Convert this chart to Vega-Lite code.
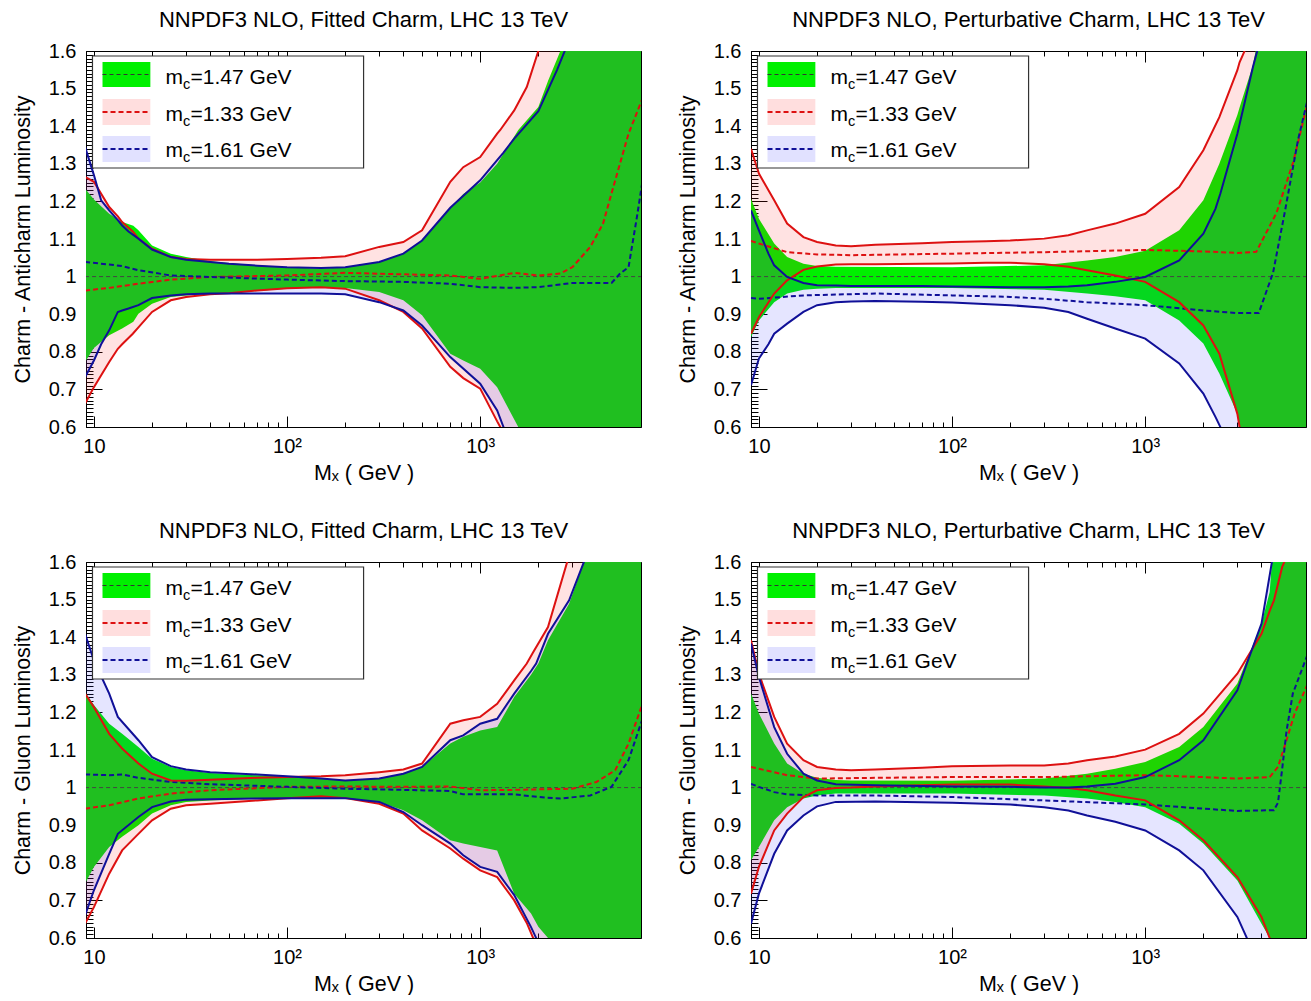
{
"$schema": "https://vega.github.io/schema/vega-lite/v6.json",
"padding": {"left": 11, "top": 8, "right": 0, "bottom": 0},
"background": "white",
"config": {
  "font": "Liberation Sans",
  "view": {"stroke": "#000", "strokeWidth": 1},
  "axis": {"domainColor": "#000", "tickColor": "#000", "labelColor": "#000", "titleColor": "#000", "labelFontSize": 20, "titleFontSize": 21.5, "titleFontWeight": "normal", "grid": false, "labelFont": "Liberation Sans", "titleFont": "Liberation Sans", "tickWidth": 1, "domainWidth": 1, "labelOverlap": false, "labelFlush": false, "zindex": 1, "tickCount": 1000},
  "title": {"fontSize": 22, "fontWeight": "normal", "font": "Liberation Sans", "color": "#000", "offset": 9}
},
"datasets": {
"d": [
{"p":"A","s":"g","x":9,"lo":0.773,"hi":1.234},{"p":"A","s":"g","x":10,"lo":0.81,"hi":1.205},{"p":"A","s":"g","x":12,"lo":0.844,"hi":1.167},{"p":"A","s":"g","x":14,"lo":0.862,"hi":1.145},{"p":"A","s":"g","x":16,"lo":0.88,"hi":1.135},{"p":"A","s":"g","x":17,"lo":0.901,"hi":1.123},{"p":"A","s":"g","x":20,"lo":0.928,"hi":1.083},{"p":"A","s":"g","x":25,"lo":0.946,"hi":1.061},{"p":"A","s":"g","x":30,"lo":0.95,"hi":1.052},{"p":"A","s":"g","x":40,"lo":0.955,"hi":1.041},{"p":"A","s":"g","x":50,"lo":0.956,"hi":1.036},{"p":"A","s":"g","x":70,"lo":0.962,"hi":1.03},{"p":"A","s":"g","x":100,"lo":0.968,"hi":1.025},{"p":"A","s":"g","x":150,"lo":0.972,"hi":1.021},{"p":"A","s":"g","x":200,"lo":0.97,"hi":1.025},{"p":"A","s":"g","x":300,"lo":0.959,"hi":1.039},{"p":"A","s":"g","x":400,"lo":0.937,"hi":1.061},{"p":"A","s":"g","x":500,"lo":0.897,"hi":1.096},{"p":"A","s":"g","x":700,"lo":0.795,"hi":1.181},{"p":"A","s":"g","x":817,"lo":0.777,"hi":1.22},{"p":"A","s":"g","x":1000,"lo":0.755,"hi":1.25},{"p":"A","s":"g","x":1224,"lo":0.706,"hi":1.3},{"p":"A","s":"g","x":1574,"lo":0.6,"hi":1.39},{"p":"A","s":"g","x":2000,"lo":0.45,"hi":1.451},{"p":"A","s":"g","x":2244,"lo":0.4,"hi":1.52},{"p":"A","s":"g","x":2600,"lo":0.3,"hi":1.6},{"p":"A","s":"g","x":3000,"lo":0.2,"hi":1.7},{"p":"A","s":"g","x":7000,"lo":0,"hi":2.5},
{"p":"A","s":"r","x":9,"lo":0.662,"hi":1.265},{"p":"A","s":"r","x":10,"lo":0.706,"hi":1.252},{"p":"A","s":"r","x":12,"lo":0.773,"hi":1.185},{"p":"A","s":"r","x":13.3,"lo":0.808,"hi":1.16},{"p":"A","s":"r","x":14,"lo":0.82,"hi":1.145},{"p":"A","s":"r","x":15.9,"lo":0.848,"hi":1.12},{"p":"A","s":"r","x":17,"lo":0.865,"hi":1.101},{"p":"A","s":"r","x":20,"lo":0.906,"hi":1.074},{"p":"A","s":"r","x":25,"lo":0.937,"hi":1.052},{"p":"A","s":"r","x":30,"lo":0.946,"hi":1.047},{"p":"A","s":"r","x":40,"lo":0.953,"hi":1.045},{"p":"A","s":"r","x":50,"lo":0.956,"hi":1.045},{"p":"A","s":"r","x":70,"lo":0.963,"hi":1.045},{"p":"A","s":"r","x":100,"lo":0.969,"hi":1.047},{"p":"A","s":"r","x":150,"lo":0.972,"hi":1.05},{"p":"A","s":"r","x":200,"lo":0.968,"hi":1.054},{"p":"A","s":"r","x":300,"lo":0.937,"hi":1.079},{"p":"A","s":"r","x":400,"lo":0.906,"hi":1.092},{"p":"A","s":"r","x":500,"lo":0.862,"hi":1.123},{"p":"A","s":"r","x":700,"lo":0.76,"hi":1.252},{"p":"A","s":"r","x":817,"lo":0.73,"hi":1.291},{"p":"A","s":"r","x":1000,"lo":0.702,"hi":1.318},{"p":"A","s":"r","x":1224,"lo":0.615,"hi":1.38},{"p":"A","s":"r","x":1270,"lo":0.6,"hi":1.39},{"p":"A","s":"r","x":1500,"lo":0.5,"hi":1.442},{"p":"A","s":"r","x":1742,"lo":0.4,"hi":1.504},{"p":"A","s":"r","x":2000,"lo":0.3,"hi":1.6},{"p":"A","s":"r","x":2500,"lo":0.1,"hi":1.8},{"p":"A","s":"r","x":7000,"lo":0,"hi":3},
{"p":"A","s":"b","x":9,"lo":0.733,"hi":1.345},{"p":"A","s":"b","x":10,"lo":0.777,"hi":1.27},{"p":"A","s":"b","x":10.9,"lo":0.82,"hi":1.203},{"p":"A","s":"b","x":12,"lo":0.857,"hi":1.176},{"p":"A","s":"b","x":13.3,"lo":0.906,"hi":1.15},{"p":"A","s":"b","x":14,"lo":0.91,"hi":1.136},{"p":"A","s":"b","x":15.1,"lo":0.915,"hi":1.12},{"p":"A","s":"b","x":17,"lo":0.924,"hi":1.101},{"p":"A","s":"b","x":20,"lo":0.943,"hi":1.072},{"p":"A","s":"b","x":25,"lo":0.95,"hi":1.052},{"p":"A","s":"b","x":30,"lo":0.953,"hi":1.045},{"p":"A","s":"b","x":40,"lo":0.955,"hi":1.039},{"p":"A","s":"b","x":50,"lo":0.955,"hi":1.034},{"p":"A","s":"b","x":70,"lo":0.955,"hi":1.029},{"p":"A","s":"b","x":100,"lo":0.955,"hi":1.025},{"p":"A","s":"b","x":150,"lo":0.955,"hi":1.023},{"p":"A","s":"b","x":200,"lo":0.953,"hi":1.025},{"p":"A","s":"b","x":300,"lo":0.932,"hi":1.039},{"p":"A","s":"b","x":400,"lo":0.91,"hi":1.061},{"p":"A","s":"b","x":500,"lo":0.87,"hi":1.096},{"p":"A","s":"b","x":700,"lo":0.786,"hi":1.183},{"p":"A","s":"b","x":1000,"lo":0.715,"hi":1.256},{"p":"A","s":"b","x":1224,"lo":0.644,"hi":1.31},{"p":"A","s":"b","x":1320,"lo":0.6,"hi":1.33},{"p":"A","s":"b","x":1500,"lo":0.5,"hi":1.367},{"p":"A","s":"b","x":2000,"lo":0.3,"hi":1.44},{"p":"A","s":"b","x":2500,"lo":0.1,"hi":1.55},{"p":"A","s":"b","x":3000,"lo":0,"hi":1.65},{"p":"A","s":"b","x":7000,"lo":0,"hi":3},
{"p":"A","s":"gc","x":9,"c":1},{"p":"A","s":"gc","x":7000,"c":1},
{"p":"A","s":"rc","x":9,"c":0.963},{"p":"A","s":"rc","x":12,"c":0.97},{"p":"A","s":"rc","x":17,"c":0.981},{"p":"A","s":"rc","x":25,"c":0.992},{"p":"A","s":"rc","x":40,"c":0.999},{"p":"A","s":"rc","x":100,"c":1.003},{"p":"A","s":"rc","x":200,"c":1.01},{"p":"A","s":"rc","x":400,"c":1.006},{"p":"A","s":"rc","x":700,"c":1.003},{"p":"A","s":"rc","x":1000,"c":0.994},{"p":"A","s":"rc","x":1500,"c":1.01},{"p":"A","s":"rc","x":2000,"c":1.003},{"p":"A","s":"rc","x":2600,"c":1.008},{"p":"A","s":"rc","x":3000,"c":1.025},{"p":"A","s":"rc","x":3715,"c":1.079},{"p":"A","s":"rc","x":4325,"c":1.141},{"p":"A","s":"rc","x":5000,"c":1.256},{"p":"A","s":"rc","x":5860,"c":1.38},{"p":"A","s":"rc","x":7000,"c":1.48},
{"p":"A","s":"bc","x":9,"c":1.039},{"p":"A","s":"bc","x":12,"c":1.032},{"p":"A","s":"bc","x":14,"c":1.028},{"p":"A","s":"bc","x":17,"c":1.017},{"p":"A","s":"bc","x":25,"c":1.003},{"p":"A","s":"bc","x":40,"c":0.999},{"p":"A","s":"bc","x":100,"c":0.992},{"p":"A","s":"bc","x":200,"c":0.988},{"p":"A","s":"bc","x":400,"c":0.986},{"p":"A","s":"bc","x":700,"c":0.981},{"p":"A","s":"bc","x":1000,"c":0.972},{"p":"A","s":"bc","x":1500,"c":0.97},{"p":"A","s":"bc","x":2000,"c":0.972},{"p":"A","s":"bc","x":3000,"c":0.983},{"p":"A","s":"bc","x":4786,"c":0.983},{"p":"A","s":"bc","x":5297,"c":1.008},{"p":"A","s":"bc","x":5860,"c":1.025},{"p":"A","s":"bc","x":6475,"c":1.158},{"p":"A","s":"bc","x":7000,"c":1.27},
{"p":"B","s":"g","x":9.1,"lo":0.839,"hi":1.207},{"p":"B","s":"g","x":10,"lo":0.883,"hi":1.154},{"p":"B","s":"g","x":12,"lo":0.932,"hi":1.088},{"p":"B","s":"g","x":14,"lo":0.955,"hi":1.052},{"p":"B","s":"g","x":17,"lo":0.965,"hi":1.034},{"p":"B","s":"g","x":20,"lo":0.968,"hi":1.028},{"p":"B","s":"g","x":25,"lo":0.97,"hi":1.026},{"p":"B","s":"g","x":100,"lo":0.97,"hi":1.025},{"p":"B","s":"g","x":300,"lo":0.965,"hi":1.03},{"p":"B","s":"g","x":500,"lo":0.955,"hi":1.043},{"p":"B","s":"g","x":700,"lo":0.948,"hi":1.052},{"p":"B","s":"g","x":1000,"lo":0.937,"hi":1.069},{"p":"B","s":"g","x":1500,"lo":0.883,"hi":1.123},{"p":"B","s":"g","x":2000,"lo":0.822,"hi":1.203},{"p":"B","s":"g","x":2420,"lo":0.742,"hi":1.3},{"p":"B","s":"g","x":3000,"lo":0.635,"hi":1.43},{"p":"B","s":"g","x":3080,"lo":0.6,"hi":1.45},{"p":"B","s":"g","x":3600,"lo":0.4,"hi":1.56},{"p":"B","s":"g","x":3800,"lo":0.3,"hi":1.62},{"p":"B","s":"g","x":7000,"lo":0,"hi":3},
{"p":"B","s":"r","x":9.1,"lo":0.848,"hi":1.34},{"p":"B","s":"r","x":10,"lo":0.892,"hi":1.274},{"p":"B","s":"r","x":12,"lo":0.955,"hi":1.203},{"p":"B","s":"r","x":14,"lo":0.99,"hi":1.141},{"p":"B","s":"r","x":17,"lo":1.018,"hi":1.105},{"p":"B","s":"r","x":20,"lo":1.027,"hi":1.092},{"p":"B","s":"r","x":25,"lo":1.032,"hi":1.083},{"p":"B","s":"r","x":30,"lo":1.033,"hi":1.081},{"p":"B","s":"r","x":40,"lo":1.033,"hi":1.085},{"p":"B","s":"r","x":70,"lo":1.034,"hi":1.089},{"p":"B","s":"r","x":100,"lo":1.035,"hi":1.092},{"p":"B","s":"r","x":150,"lo":1.037,"hi":1.094},{"p":"B","s":"r","x":200,"lo":1.037,"hi":1.096},{"p":"B","s":"r","x":300,"lo":1.033,"hi":1.101},{"p":"B","s":"r","x":400,"lo":1.026,"hi":1.11},{"p":"B","s":"r","x":500,"lo":1.017,"hi":1.123},{"p":"B","s":"r","x":700,"lo":1.003,"hi":1.141},{"p":"B","s":"r","x":1000,"lo":0.986,"hi":1.167},{"p":"B","s":"r","x":1500,"lo":0.932,"hi":1.238},{"p":"B","s":"r","x":2000,"lo":0.87,"hi":1.336},{"p":"B","s":"r","x":2420,"lo":0.795,"hi":1.424},{"p":"B","s":"r","x":3000,"lo":0.635,"hi":1.549},{"p":"B","s":"r","x":3080,"lo":0.6,"hi":1.57},{"p":"B","s":"r","x":3270,"lo":0.5,"hi":1.6},{"p":"B","s":"r","x":4000,"lo":0.2,"hi":1.9},{"p":"B","s":"r","x":7000,"lo":0,"hi":3},
{"p":"B","s":"b","x":9.1,"lo":0.711,"hi":1.176},{"p":"B","s":"b","x":10,"lo":0.782,"hi":1.123},{"p":"B","s":"b","x":11.2,"lo":0.82,"hi":1.061},{"p":"B","s":"b","x":12,"lo":0.848,"hi":1.03},{"p":"B","s":"b","x":14,"lo":0.875,"hi":0.999},{"p":"B","s":"b","x":17,"lo":0.906,"hi":0.983},{"p":"B","s":"b","x":20,"lo":0.924,"hi":0.977},{"p":"B","s":"b","x":25,"lo":0.932,"hi":0.976},{"p":"B","s":"b","x":30,"lo":0.934,"hi":0.975},{"p":"B","s":"b","x":40,"lo":0.935,"hi":0.975},{"p":"B","s":"b","x":70,"lo":0.933,"hi":0.975},{"p":"B","s":"b","x":100,"lo":0.931,"hi":0.974},{"p":"B","s":"b","x":200,"lo":0.924,"hi":0.972},{"p":"B","s":"b","x":300,"lo":0.917,"hi":0.972},{"p":"B","s":"b","x":400,"lo":0.906,"hi":0.974},{"p":"B","s":"b","x":500,"lo":0.888,"hi":0.977},{"p":"B","s":"b","x":700,"lo":0.862,"hi":0.986},{"p":"B","s":"b","x":1000,"lo":0.835,"hi":0.999},{"p":"B","s":"b","x":1500,"lo":0.769,"hi":1.043},{"p":"B","s":"b","x":2000,"lo":0.689,"hi":1.114},{"p":"B","s":"b","x":2310,"lo":0.627,"hi":1.18},{"p":"B","s":"b","x":2450,"lo":0.6,"hi":1.221},{"p":"B","s":"b","x":3000,"lo":0.45,"hi":1.38},{"p":"B","s":"b","x":3610,"lo":0.3,"hi":1.557},{"p":"B","s":"b","x":3800,"lo":0.25,"hi":1.6},{"p":"B","s":"b","x":7000,"lo":0,"hi":3},
{"p":"B","s":"gc","x":9,"c":1},{"p":"B","s":"gc","x":7000,"c":1},
{"p":"B","s":"rc","x":9.1,"c":1.095},{"p":"B","s":"rc","x":10,"c":1.088},{"p":"B","s":"rc","x":14,"c":1.065},{"p":"B","s":"rc","x":20,"c":1.059},{"p":"B","s":"rc","x":30,"c":1.057},{"p":"B","s":"rc","x":100,"c":1.061},{"p":"B","s":"rc","x":300,"c":1.065},{"p":"B","s":"rc","x":1000,"c":1.071},{"p":"B","s":"rc","x":2000,"c":1.067},{"p":"B","s":"rc","x":3000,"c":1.063},{"p":"B","s":"rc","x":3760,"c":1.066},{"p":"B","s":"rc","x":4780,"c":1.169},{"p":"B","s":"rc","x":5820,"c":1.302},{"p":"B","s":"rc","x":7000,"c":1.47},
{"p":"B","s":"bc","x":9.1,"c":0.943},{"p":"B","s":"bc","x":10,"c":0.941},{"p":"B","s":"bc","x":17,"c":0.95},{"p":"B","s":"bc","x":40,"c":0.955},{"p":"B","s":"bc","x":100,"c":0.95},{"p":"B","s":"bc","x":200,"c":0.946},{"p":"B","s":"bc","x":300,"c":0.941},{"p":"B","s":"bc","x":500,"c":0.932},{"p":"B","s":"bc","x":1000,"c":0.924},{"p":"B","s":"bc","x":2000,"c":0.91},{"p":"B","s":"bc","x":3000,"c":0.903},{"p":"B","s":"bc","x":3870,"c":0.903},{"p":"B","s":"bc","x":4590,"c":1.01},{"p":"B","s":"bc","x":5270,"c":1.169},{"p":"B","s":"bc","x":6180,"c":1.363},{"p":"B","s":"bc","x":7000,"c":1.48},
{"p":"C","s":"g","x":9,"lo":0.745,"hi":1.254},{"p":"C","s":"g","x":10,"lo":0.789,"hi":1.22},{"p":"C","s":"g","x":12,"lo":0.842,"hi":1.17},{"p":"C","s":"g","x":14,"lo":0.869,"hi":1.143},{"p":"C","s":"g","x":17,"lo":0.9,"hi":1.108},{"p":"C","s":"g","x":20,"lo":0.931,"hi":1.077},{"p":"C","s":"g","x":25,"lo":0.953,"hi":1.055},{"p":"C","s":"g","x":30,"lo":0.962,"hi":1.046},{"p":"C","s":"g","x":40,"lo":0.966,"hi":1.039},{"p":"C","s":"g","x":70,"lo":0.971,"hi":1.033},{"p":"C","s":"g","x":100,"lo":0.972,"hi":1.03},{"p":"C","s":"g","x":150,"lo":0.972,"hi":1.024},{"p":"C","s":"g","x":200,"lo":0.971,"hi":1.019},{"p":"C","s":"g","x":300,"lo":0.962,"hi":1.024},{"p":"C","s":"g","x":400,"lo":0.94,"hi":1.037},{"p":"C","s":"g","x":500,"lo":0.913,"hi":1.055},{"p":"C","s":"g","x":700,"lo":0.86,"hi":1.117},{"p":"C","s":"g","x":817,"lo":0.851,"hi":1.135},{"p":"C","s":"g","x":1000,"lo":0.842,"hi":1.152},{"p":"C","s":"g","x":1224,"lo":0.833,"hi":1.161},{"p":"C","s":"g","x":1500,"lo":0.718,"hi":1.241},{"p":"C","s":"g","x":1833,"lo":0.665,"hi":1.3},{"p":"C","s":"g","x":2000,"lo":0.63,"hi":1.33},{"p":"C","s":"g","x":2244,"lo":0.6,"hi":1.392},{"p":"C","s":"g","x":2886,"lo":0.4,"hi":1.489},{"p":"C","s":"g","x":3443,"lo":0.3,"hi":1.6},{"p":"C","s":"g","x":7000,"lo":0,"hi":2.5},
{"p":"C","s":"r","x":9,"lo":0.638,"hi":1.25},{"p":"C","s":"r","x":10,"lo":0.682,"hi":1.214},{"p":"C","s":"r","x":12,"lo":0.771,"hi":1.143},{"p":"C","s":"r","x":14,"lo":0.833,"hi":1.104},{"p":"C","s":"r","x":17,"lo":0.877,"hi":1.064},{"p":"C","s":"r","x":20,"lo":0.913,"hi":1.037},{"p":"C","s":"r","x":25,"lo":0.944,"hi":1.019},{"p":"C","s":"r","x":30,"lo":0.953,"hi":1.018},{"p":"C","s":"r","x":40,"lo":0.957,"hi":1.021},{"p":"C","s":"r","x":70,"lo":0.966,"hi":1.026},{"p":"C","s":"r","x":100,"lo":0.972,"hi":1.028},{"p":"C","s":"r","x":150,"lo":0.977,"hi":1.03},{"p":"C","s":"r","x":200,"lo":0.972,"hi":1.033},{"p":"C","s":"r","x":300,"lo":0.957,"hi":1.041},{"p":"C","s":"r","x":400,"lo":0.931,"hi":1.048},{"p":"C","s":"r","x":500,"lo":0.886,"hi":1.064},{"p":"C","s":"r","x":700,"lo":0.838,"hi":1.17},{"p":"C","s":"r","x":817,"lo":0.811,"hi":1.179},{"p":"C","s":"r","x":1000,"lo":0.78,"hi":1.188},{"p":"C","s":"r","x":1224,"lo":0.762,"hi":1.223},{"p":"C","s":"r","x":1500,"lo":0.7,"hi":1.285},{"p":"C","s":"r","x":1742,"lo":0.64,"hi":1.33},{"p":"C","s":"r","x":1880,"lo":0.6,"hi":1.36},{"p":"C","s":"r","x":2244,"lo":0.45,"hi":1.427},{"p":"C","s":"r","x":2820,"lo":0.3,"hi":1.6},{"p":"C","s":"r","x":7000,"lo":0,"hi":3},
{"p":"C","s":"b","x":9,"lo":0.66,"hi":1.409},{"p":"C","s":"b","x":10,"lo":0.727,"hi":1.338},{"p":"C","s":"b","x":12,"lo":0.824,"hi":1.25},{"p":"C","s":"b","x":13.3,"lo":0.877,"hi":1.188},{"p":"C","s":"b","x":17,"lo":0.922,"hi":1.126},{"p":"C","s":"b","x":20,"lo":0.948,"hi":1.081},{"p":"C","s":"b","x":25,"lo":0.963,"hi":1.057},{"p":"C","s":"b","x":30,"lo":0.968,"hi":1.048},{"p":"C","s":"b","x":40,"lo":0.969,"hi":1.041},{"p":"C","s":"b","x":70,"lo":0.971,"hi":1.035},{"p":"C","s":"b","x":100,"lo":0.972,"hi":1.03},{"p":"C","s":"b","x":150,"lo":0.972,"hi":1.024},{"p":"C","s":"b","x":200,"lo":0.972,"hi":1.019},{"p":"C","s":"b","x":300,"lo":0.962,"hi":1.024},{"p":"C","s":"b","x":400,"lo":0.935,"hi":1.037},{"p":"C","s":"b","x":500,"lo":0.9,"hi":1.055},{"p":"C","s":"b","x":700,"lo":0.851,"hi":1.126},{"p":"C","s":"b","x":817,"lo":0.82,"hi":1.139},{"p":"C","s":"b","x":1000,"lo":0.789,"hi":1.17},{"p":"C","s":"b","x":1224,"lo":0.776,"hi":1.183},{"p":"C","s":"b","x":1500,"lo":0.714,"hi":1.25},{"p":"C","s":"b","x":1833,"lo":0.629,"hi":1.31},{"p":"C","s":"b","x":1948,"lo":0.6,"hi":1.33},{"p":"C","s":"b","x":2244,"lo":0.5,"hi":1.409},{"p":"C","s":"b","x":2886,"lo":0.3,"hi":1.498},{"p":"C","s":"b","x":3443,"lo":0.1,"hi":1.6},{"p":"C","s":"b","x":7000,"lo":0,"hi":3},
{"p":"C","s":"gc","x":9,"c":1},{"p":"C","s":"gc","x":7000,"c":1},
{"p":"C","s":"rc","x":9,"c":0.944},{"p":"C","s":"rc","x":12,"c":0.953},{"p":"C","s":"rc","x":17,"c":0.971},{"p":"C","s":"rc","x":25,"c":0.984},{"p":"C","s":"rc","x":40,"c":0.993},{"p":"C","s":"rc","x":100,"c":1.002},{"p":"C","s":"rc","x":200,"c":1.003},{"p":"C","s":"rc","x":400,"c":1.002},{"p":"C","s":"rc","x":700,"c":1.003},{"p":"C","s":"rc","x":1000,"c":0.993},{"p":"C","s":"rc","x":1500,"c":0.994},{"p":"C","s":"rc","x":3000,"c":0.997},{"p":"C","s":"rc","x":4000,"c":1.015},{"p":"C","s":"rc","x":5000,"c":1.046},{"p":"C","s":"rc","x":5860,"c":1.117},{"p":"C","s":"rc","x":7000,"c":1.23},
{"p":"C","s":"bc","x":9,"c":1.035},{"p":"C","s":"bc","x":12,"c":1.033},{"p":"C","s":"bc","x":14,"c":1.035},{"p":"C","s":"bc","x":17,"c":1.026},{"p":"C","s":"bc","x":25,"c":1.015},{"p":"C","s":"bc","x":40,"c":1.009},{"p":"C","s":"bc","x":100,"c":1.002},{"p":"C","s":"bc","x":200,"c":0.997},{"p":"C","s":"bc","x":400,"c":0.994},{"p":"C","s":"bc","x":700,"c":0.991},{"p":"C","s":"bc","x":817,"c":0.982},{"p":"C","s":"bc","x":1500,"c":0.982},{"p":"C","s":"bc","x":2000,"c":0.975},{"p":"C","s":"bc","x":2600,"c":0.971},{"p":"C","s":"bc","x":3715,"c":0.979},{"p":"C","s":"bc","x":4786,"c":1.002},{"p":"C","s":"bc","x":5860,"c":1.073},{"p":"C","s":"bc","x":7000,"c":1.19},
{"p":"D","s":"g","x":9.1,"lo":0.807,"hi":1.25},{"p":"D","s":"g","x":10,"lo":0.842,"hi":1.197},{"p":"D","s":"g","x":12,"lo":0.913,"hi":1.117},{"p":"D","s":"g","x":14,"lo":0.948,"hi":1.064},{"p":"D","s":"g","x":17,"lo":0.971,"hi":1.037},{"p":"D","s":"g","x":20,"lo":0.979,"hi":1.026},{"p":"D","s":"g","x":25,"lo":0.984,"hi":1.02},{"p":"D","s":"g","x":30,"lo":0.984,"hi":1.019},{"p":"D","s":"g","x":100,"lo":0.984,"hi":1.018},{"p":"D","s":"g","x":300,"lo":0.979,"hi":1.024},{"p":"D","s":"g","x":500,"lo":0.971,"hi":1.037},{"p":"D","s":"g","x":700,"lo":0.962,"hi":1.05},{"p":"D","s":"g","x":1000,"lo":0.948,"hi":1.068},{"p":"D","s":"g","x":1500,"lo":0.904,"hi":1.108},{"p":"D","s":"g","x":2000,"lo":0.851,"hi":1.161},{"p":"D","s":"g","x":3000,"lo":0.753,"hi":1.277},{"p":"D","s":"g","x":4000,"lo":0.638,"hi":1.436},{"p":"D","s":"g","x":4410,"lo":0.6,"hi":1.52},{"p":"D","s":"g","x":4530,"lo":0.55,"hi":1.6},{"p":"D","s":"g","x":7000,"lo":0,"hi":3},
{"p":"D","s":"r","x":9.1,"lo":0.718,"hi":1.392},{"p":"D","s":"r","x":10,"lo":0.789,"hi":1.303},{"p":"D","s":"r","x":12,"lo":0.886,"hi":1.188},{"p":"D","s":"r","x":14,"lo":0.931,"hi":1.117},{"p":"D","s":"r","x":17,"lo":0.975,"hi":1.073},{"p":"D","s":"r","x":20,"lo":0.993,"hi":1.055},{"p":"D","s":"r","x":25,"lo":0.999,"hi":1.048},{"p":"D","s":"r","x":30,"lo":1.0,"hi":1.046},{"p":"D","s":"r","x":40,"lo":1.003,"hi":1.048},{"p":"D","s":"r","x":70,"lo":1.006,"hi":1.053},{"p":"D","s":"r","x":100,"lo":1.008,"hi":1.057},{"p":"D","s":"r","x":200,"lo":1.008,"hi":1.059},{"p":"D","s":"r","x":300,"lo":1.003,"hi":1.059},{"p":"D","s":"r","x":400,"lo":0.999,"hi":1.064},{"p":"D","s":"r","x":500,"lo":0.993,"hi":1.073},{"p":"D","s":"r","x":700,"lo":0.979,"hi":1.083},{"p":"D","s":"r","x":1000,"lo":0.966,"hi":1.101},{"p":"D","s":"r","x":1500,"lo":0.913,"hi":1.143},{"p":"D","s":"r","x":2000,"lo":0.86,"hi":1.197},{"p":"D","s":"r","x":3000,"lo":0.762,"hi":1.303},{"p":"D","s":"r","x":4000,"lo":0.656,"hi":1.409},{"p":"D","s":"r","x":4410,"lo":0.6,"hi":1.47},{"p":"D","s":"r","x":4640,"lo":0.55,"hi":1.498},{"p":"D","s":"r","x":5120,"lo":0.4,"hi":1.587},{"p":"D","s":"r","x":5250,"lo":0.35,"hi":1.6},{"p":"D","s":"r","x":7000,"lo":0,"hi":2.5},
{"p":"D","s":"b","x":9.1,"lo":0.638,"hi":1.383},{"p":"D","s":"b","x":10,"lo":0.718,"hi":1.294},{"p":"D","s":"b","x":12,"lo":0.824,"hi":1.161},{"p":"D","s":"b","x":14,"lo":0.886,"hi":1.09},{"p":"D","s":"b","x":17,"lo":0.926,"hi":1.037},{"p":"D","s":"b","x":20,"lo":0.95,"hi":1.019},{"p":"D","s":"b","x":25,"lo":0.962,"hi":1.009},{"p":"D","s":"b","x":40,"lo":0.963,"hi":1.006},{"p":"D","s":"b","x":100,"lo":0.96,"hi":1.003},{"p":"D","s":"b","x":200,"lo":0.955,"hi":1.002},{"p":"D","s":"b","x":300,"lo":0.948,"hi":1.0},{"p":"D","s":"b","x":400,"lo":0.939,"hi":1.0},{"p":"D","s":"b","x":500,"lo":0.926,"hi":1.003},{"p":"D","s":"b","x":700,"lo":0.909,"hi":1.01},{"p":"D","s":"b","x":1000,"lo":0.886,"hi":1.028},{"p":"D","s":"b","x":1500,"lo":0.833,"hi":1.073},{"p":"D","s":"b","x":2000,"lo":0.78,"hi":1.126},{"p":"D","s":"b","x":3000,"lo":0.656,"hi":1.259},{"p":"D","s":"b","x":3360,"lo":0.6,"hi":1.33},{"p":"D","s":"b","x":4000,"lo":0.45,"hi":1.436},{"p":"D","s":"b","x":4530,"lo":0.3,"hi":1.6},{"p":"D","s":"b","x":7000,"lo":0,"hi":3},
{"p":"D","s":"gc","x":9,"c":1},{"p":"D","s":"gc","x":7000,"c":1},
{"p":"D","s":"rc","x":9.1,"c":1.055},{"p":"D","s":"rc","x":10,"c":1.05},{"p":"D","s":"rc","x":14,"c":1.033},{"p":"D","s":"rc","x":20,"c":1.024},{"p":"D","s":"rc","x":40,"c":1.026},{"p":"D","s":"rc","x":100,"c":1.028},{"p":"D","s":"rc","x":300,"c":1.028},{"p":"D","s":"rc","x":1000,"c":1.033},{"p":"D","s":"rc","x":2000,"c":1.028},{"p":"D","s":"rc","x":3000,"c":1.024},{"p":"D","s":"rc","x":4410,"c":1.028},{"p":"D","s":"rc","x":4870,"c":1.055},{"p":"D","s":"rc","x":5390,"c":1.126},{"p":"D","s":"rc","x":5940,"c":1.197},{"p":"D","s":"rc","x":7000,"c":1.28},
{"p":"D","s":"bc","x":9.1,"c":1.01},{"p":"D","s":"bc","x":10,"c":1.002},{"p":"D","s":"bc","x":12,"c":0.988},{"p":"D","s":"bc","x":14,"c":0.982},{"p":"D","s":"bc","x":20,"c":0.979},{"p":"D","s":"bc","x":40,"c":0.979},{"p":"D","s":"bc","x":100,"c":0.975},{"p":"D","s":"bc","x":300,"c":0.966},{"p":"D","s":"bc","x":1000,"c":0.955},{"p":"D","s":"bc","x":2000,"c":0.944},{"p":"D","s":"bc","x":3000,"c":0.938},{"p":"D","s":"bc","x":4640,"c":0.94},{"p":"D","s":"bc","x":4870,"c":0.96},{"p":"D","s":"bc","x":5120,"c":1.05},{"p":"D","s":"bc","x":5390,"c":1.15},{"p":"D","s":"bc","x":5810,"c":1.25},{"p":"D","s":"bc","x":7000,"c":1.36}
],
"leg": [{"k": "legend"}]
},
"columns": 2,
"spacing": {"row": 35, "column": 34},
"concat": [
{
 "width": 555, "height": 376,
 "title": {"text": "NNPDF3 NLO, Fitted Charm, LHC 13 TeV"},
 "resolve": {"axis": {"x": "independent"}},
 "layer": [
  {"data": {"name": "d"}, "transform": [{"filter": "datum.p=='A' && datum.s=='g'"}], "mark": {"type": "area", "clip": true, "fill": "#00f000"},
   "encoding": {
    "x": {"field": "x", "type": "quantitative", "scale": {"type": "log", "domain": [9.1, 6800], "nice": false},
      "axis": {"orient": "bottom", "values": [10,20,30,40,50,60,70,80,90,100,200,300,400,500,600,700,800,900,1000,2000,3000,4000,5000,6000], "tickCount": 1000, "labelExpr": "datum.value==10?'10':datum.value==100?'10²':datum.value==1000?'10³':''", "labelOverlap": false, "labelPadding": 20, "tickSize": {"condition": {"test": "datum.value==10||datum.value==100||datum.value==1000", "value": -11}, "value": -5}, "title": "Mₓ ( GeV )", "titlePadding": 0}},
    "y": {"field": "lo", "type": "quantitative", "scale": {"domain": [0.6, 1.6], "nice": false, "zero": false},
      "axis": {"values": [0.6,0.61,0.62,0.63,0.64,0.65,0.66,0.67,0.68,0.69,0.7,0.71,0.72,0.73,0.74,0.75,0.76,0.77,0.78,0.79,0.8,0.81,0.82,0.83,0.84,0.85,0.86,0.87,0.88,0.89,0.9,0.91,0.92,0.93,0.94,0.95,0.96,0.97,0.98,0.99,1,1.01,1.02,1.03,1.04,1.05,1.06,1.07,1.08,1.09,1.1,1.11,1.12,1.13,1.14,1.15,1.16,1.17,1.18,1.19,1.2,1.21,1.22,1.23,1.24,1.25,1.26,1.27,1.28,1.29,1.3,1.31,1.32,1.33,1.34,1.35,1.36,1.37,1.38,1.39,1.4,1.41,1.42,1.43,1.44,1.45,1.46,1.47,1.48,1.49,1.5,1.51,1.52,1.53,1.54,1.55,1.56,1.57,1.58,1.59,1.6], "tickCount": 1000, "labelExpr": "abs(datum.value*10-round(datum.value*10))<0.001?format(datum.value,'~g'):''", "labelOverlap": false, "labelPadding": 26, "tickSize": {"condition": {"test": "abs(datum.value*10-round(datum.value*10))<0.001", "value": -16}, "value": -7}, "title": "Charm - Anticharm Luminosity", "titlePadding": 14}},
    "y2": {"field": "hi"}}},
  {"data": {"name": "d"}, "transform": [{"filter": "datum.p=='A' && datum.s=='r'"}], "mark": {"type": "area", "clip": true, "fill": "#ff1414", "fillOpacity": 0.12},
   "encoding": {
    "x": {"field": "x", "type": "quantitative", "scale": {"type": "log", "domain": [9.1, 6800], "nice": false},
      "axis": {"orient": "top", "values": [10,20,30,40,50,60,70,80,90,100,200,300,400,500,600,700,800,900,1000,2000,3000,4000,5000,6000], "tickCount": 1000, "labels": false, "title": null, "tickSize": {"condition": {"test": "datum.value==10||datum.value==100||datum.value==1000", "value": -11}, "value": -5}}},
    "y": {"field": "lo", "type": "quantitative", "scale": {"domain": [0.6, 1.6], "nice": false, "zero": false}}, "y2": {"field": "hi"}}},
  {"data": {"name": "d"}, "transform": [{"filter": "datum.p=='A' && datum.s=='b'"}], "mark": {"type": "area", "clip": true, "fill": "#2828ff", "fillOpacity": 0.12},
   "encoding": {"x": {"field": "x", "type": "quantitative", "axis": null}, "y": {"field": "lo", "type": "quantitative"}, "y2": {"field": "hi"}}},
  {"data": {"name": "d"}, "transform": [{"filter": "datum.p=='A' && datum.s=='gc'"}], "mark": {"type": "line", "clip": true, "stroke": "#444", "strokeWidth": 1, "strokeDash": [4, 3]},
   "encoding": {"x": {"field": "x", "type": "quantitative", "axis": null}, "y": {"field": "c", "type": "quantitative"}}},
  {"data": {"name": "d"}, "transform": [{"filter": "datum.p=='A' && datum.s=='rc'"}], "mark": {"type": "line", "clip": true, "stroke": "#dd1111", "strokeWidth": 2, "strokeDash": [5, 3]},
   "encoding": {"x": {"field": "x", "type": "quantitative", "axis": null}, "y": {"field": "c", "type": "quantitative"}}},
  {"data": {"name": "d"}, "transform": [{"filter": "datum.p=='A' && datum.s=='bc'"}], "mark": {"type": "line", "clip": true, "stroke": "#101098", "strokeWidth": 2, "strokeDash": [5, 3]},
   "encoding": {"x": {"field": "x", "type": "quantitative", "axis": null}, "y": {"field": "c", "type": "quantitative"}}},
  {"data": {"name": "d"}, "transform": [{"filter": "datum.p=='A' && datum.s=='r'"}], "mark": {"type": "line", "clip": true, "stroke": "#dd1111", "strokeWidth": 2},
   "encoding": {"x": {"field": "x", "type": "quantitative", "axis": null}, "y": {"field": "lo", "type": "quantitative"}}},
  {"data": {"name": "d"}, "transform": [{"filter": "datum.p=='A' && datum.s=='r'"}], "mark": {"type": "line", "clip": true, "stroke": "#dd1111", "strokeWidth": 2},
   "encoding": {"x": {"field": "x", "type": "quantitative", "axis": null}, "y": {"field": "hi", "type": "quantitative"}}},
  {"data": {"name": "d"}, "transform": [{"filter": "datum.p=='A' && datum.s=='b'"}], "mark": {"type": "line", "clip": true, "stroke": "#101098", "strokeWidth": 2},
   "encoding": {"x": {"field": "x", "type": "quantitative", "axis": null}, "y": {"field": "lo", "type": "quantitative"}}},
  {"data": {"name": "d"}, "transform": [{"filter": "datum.p=='A' && datum.s=='b'"}], "mark": {"type": "line", "clip": true, "stroke": "#101098", "strokeWidth": 2},
   "encoding": {"x": {"field": "x", "type": "quantitative", "axis": null}, "y": {"field": "hi", "type": "quantitative"}}},
  {"data": {"name": "leg"}, "mark": {"type": "rect", "fill": "white", "stroke": "#333", "strokeWidth": 1.2}, "encoding": {"x": {"datum": 9.83, "type": "quantitative", "axis": null}, "x2": {"datum": 249}, "y": {"datum": 1.5867, "type": "quantitative"}, "y2": {"datum": 1.2888}}},
  {"data": {"name": "leg"}, "mark": {"type": "rect", "fill": "#00f000"}, "encoding": {"x": {"datum": 11.08, "type": "quantitative", "axis": null}, "x2": {"datum": 19.6}, "y": {"datum": 1.5707, "type": "quantitative"}, "y2": {"datum": 1.5043}}},
  {"data": {"name": "leg"}, "mark": {"type": "rect", "fill": "#ff1414", "fillOpacity": 0.14}, "encoding": {"x": {"datum": 11.08, "type": "quantitative", "axis": null}, "x2": {"datum": 19.6}, "y": {"datum": 1.4723, "type": "quantitative"}, "y2": {"datum": 1.4032}}},
  {"data": {"name": "leg"}, "mark": {"type": "rect", "fill": "#2828ff", "fillOpacity": 0.14}, "encoding": {"x": {"datum": 11.08, "type": "quantitative", "axis": null}, "x2": {"datum": 19.6}, "y": {"datum": 1.374, "type": "quantitative"}, "y2": {"datum": 1.3048}}},
  {"data": {"name": "leg"}, "mark": {"type": "rule", "stroke": "#333", "strokeWidth": 1, "strokeDash": [4, 3]}, "encoding": {"x": {"datum": 11.08, "type": "quantitative", "axis": null}, "x2": {"datum": 19.6}, "y": {"datum": 1.5375, "type": "quantitative"}}},
  {"data": {"name": "leg"}, "mark": {"type": "rule", "stroke": "#dd1111", "strokeWidth": 2, "strokeDash": [5, 3]}, "encoding": {"x": {"datum": 11.08, "type": "quantitative", "axis": null}, "x2": {"datum": 19.6}, "y": {"datum": 1.4378, "type": "quantitative"}}},
  {"data": {"name": "leg"}, "mark": {"type": "rule", "stroke": "#101098", "strokeWidth": 2, "strokeDash": [5, 3]}, "encoding": {"x": {"datum": 11.08, "type": "quantitative", "axis": null}, "x2": {"datum": 19.6}, "y": {"datum": 1.3394, "type": "quantitative"}}},
  {"data": {"name": "leg"}, "mark": {"type": "text", "align": "left", "baseline": "alphabetic", "fontSize": 21, "lineHeight": 36.2, "color": "#000"}, "encoding": {"x": {"datum": 23.5, "type": "quantitative", "axis": null}, "y": {"datum": 1.5114, "type": "quantitative"}, "text": {"value": ["m", "m", "m"]}}},
  {"data": {"name": "leg"}, "mark": {"type": "text", "align": "left", "baseline": "alphabetic", "fontSize": 14.5, "lineHeight": 36.2, "dx": 17.5, "dy": 5, "color": "#000"}, "encoding": {"x": {"datum": 23.5, "type": "quantitative", "axis": null}, "y": {"datum": 1.5114, "type": "quantitative"}, "text": {"value": ["c", "c", "c"]}}},
  {"data": {"name": "leg"}, "mark": {"type": "text", "align": "left", "baseline": "alphabetic", "fontSize": 21, "lineHeight": 36.2, "dx": 25, "color": "#000"}, "encoding": {"x": {"datum": 23.5, "type": "quantitative", "axis": null}, "y": {"datum": 1.5114, "type": "quantitative"}, "text": {"value": ["=1.47 GeV", "=1.33 GeV", "=1.61 GeV"]}}}
 ]
},
{
 "width": 555, "height": 376,
 "title": {"text": "NNPDF3 NLO, Perturbative Charm, LHC 13 TeV"},
 "resolve": {"axis": {"x": "independent"}},
 "layer": [
  {"data": {"name": "d"}, "transform": [{"filter": "datum.p=='B' && datum.s=='g'"}], "mark": {"type": "area", "clip": true, "fill": "#00f000"},
   "encoding": {
    "x": {"field": "x", "type": "quantitative", "scale": {"type": "log", "domain": [9.1, 6800], "nice": false},
      "axis": {"orient": "bottom", "values": [10,20,30,40,50,60,70,80,90,100,200,300,400,500,600,700,800,900,1000,2000,3000,4000,5000,6000], "tickCount": 1000, "labelExpr": "datum.value==10?'10':datum.value==100?'10²':datum.value==1000?'10³':''", "labelOverlap": false, "labelPadding": 20, "tickSize": {"condition": {"test": "datum.value==10||datum.value==100||datum.value==1000", "value": -11}, "value": -5}, "title": "Mₓ ( GeV )", "titlePadding": 0}},
    "y": {"field": "lo", "type": "quantitative", "scale": {"domain": [0.6, 1.6], "nice": false, "zero": false},
      "axis": {"values": [0.6,0.61,0.62,0.63,0.64,0.65,0.66,0.67,0.68,0.69,0.7,0.71,0.72,0.73,0.74,0.75,0.76,0.77,0.78,0.79,0.8,0.81,0.82,0.83,0.84,0.85,0.86,0.87,0.88,0.89,0.9,0.91,0.92,0.93,0.94,0.95,0.96,0.97,0.98,0.99,1,1.01,1.02,1.03,1.04,1.05,1.06,1.07,1.08,1.09,1.1,1.11,1.12,1.13,1.14,1.15,1.16,1.17,1.18,1.19,1.2,1.21,1.22,1.23,1.24,1.25,1.26,1.27,1.28,1.29,1.3,1.31,1.32,1.33,1.34,1.35,1.36,1.37,1.38,1.39,1.4,1.41,1.42,1.43,1.44,1.45,1.46,1.47,1.48,1.49,1.5,1.51,1.52,1.53,1.54,1.55,1.56,1.57,1.58,1.59,1.6], "tickCount": 1000, "labelExpr": "abs(datum.value*10-round(datum.value*10))<0.001?format(datum.value,'~g'):''", "labelOverlap": false, "labelPadding": 26, "tickSize": {"condition": {"test": "abs(datum.value*10-round(datum.value*10))<0.001", "value": -16}, "value": -7}, "title": "Charm - Anticharm Luminosity", "titlePadding": 14}},
    "y2": {"field": "hi"}}},
  {"data": {"name": "d"}, "transform": [{"filter": "datum.p=='B' && datum.s=='r'"}], "mark": {"type": "area", "clip": true, "fill": "#ff1414", "fillOpacity": 0.12},
   "encoding": {
    "x": {"field": "x", "type": "quantitative", "scale": {"type": "log", "domain": [9.1, 6800], "nice": false},
      "axis": {"orient": "top", "values": [10,20,30,40,50,60,70,80,90,100,200,300,400,500,600,700,800,900,1000,2000,3000,4000,5000,6000], "tickCount": 1000, "labels": false, "title": null, "tickSize": {"condition": {"test": "datum.value==10||datum.value==100||datum.value==1000", "value": -11}, "value": -5}}},
    "y": {"field": "lo", "type": "quantitative", "scale": {"domain": [0.6, 1.6], "nice": false, "zero": false}}, "y2": {"field": "hi"}}},
  {"data": {"name": "d"}, "transform": [{"filter": "datum.p=='B' && datum.s=='b'"}], "mark": {"type": "area", "clip": true, "fill": "#2828ff", "fillOpacity": 0.12},
   "encoding": {"x": {"field": "x", "type": "quantitative", "axis": null}, "y": {"field": "lo", "type": "quantitative"}, "y2": {"field": "hi"}}},
  {"data": {"name": "d"}, "transform": [{"filter": "datum.p=='B' && datum.s=='gc'"}], "mark": {"type": "line", "clip": true, "stroke": "#444", "strokeWidth": 1, "strokeDash": [4, 3]},
   "encoding": {"x": {"field": "x", "type": "quantitative", "axis": null}, "y": {"field": "c", "type": "quantitative"}}},
  {"data": {"name": "d"}, "transform": [{"filter": "datum.p=='B' && datum.s=='rc'"}], "mark": {"type": "line", "clip": true, "stroke": "#dd1111", "strokeWidth": 2, "strokeDash": [5, 3]},
   "encoding": {"x": {"field": "x", "type": "quantitative", "axis": null}, "y": {"field": "c", "type": "quantitative"}}},
  {"data": {"name": "d"}, "transform": [{"filter": "datum.p=='B' && datum.s=='bc'"}], "mark": {"type": "line", "clip": true, "stroke": "#101098", "strokeWidth": 2, "strokeDash": [5, 3]},
   "encoding": {"x": {"field": "x", "type": "quantitative", "axis": null}, "y": {"field": "c", "type": "quantitative"}}},
  {"data": {"name": "d"}, "transform": [{"filter": "datum.p=='B' && datum.s=='r'"}], "mark": {"type": "line", "clip": true, "stroke": "#dd1111", "strokeWidth": 2},
   "encoding": {"x": {"field": "x", "type": "quantitative", "axis": null}, "y": {"field": "lo", "type": "quantitative"}}},
  {"data": {"name": "d"}, "transform": [{"filter": "datum.p=='B' && datum.s=='r'"}], "mark": {"type": "line", "clip": true, "stroke": "#dd1111", "strokeWidth": 2},
   "encoding": {"x": {"field": "x", "type": "quantitative", "axis": null}, "y": {"field": "hi", "type": "quantitative"}}},
  {"data": {"name": "d"}, "transform": [{"filter": "datum.p=='B' && datum.s=='b'"}], "mark": {"type": "line", "clip": true, "stroke": "#101098", "strokeWidth": 2},
   "encoding": {"x": {"field": "x", "type": "quantitative", "axis": null}, "y": {"field": "lo", "type": "quantitative"}}},
  {"data": {"name": "d"}, "transform": [{"filter": "datum.p=='B' && datum.s=='b'"}], "mark": {"type": "line", "clip": true, "stroke": "#101098", "strokeWidth": 2},
   "encoding": {"x": {"field": "x", "type": "quantitative", "axis": null}, "y": {"field": "hi", "type": "quantitative"}}},
  {"data": {"name": "leg"}, "mark": {"type": "rect", "fill": "white", "stroke": "#333", "strokeWidth": 1.2}, "encoding": {"x": {"datum": 9.83, "type": "quantitative", "axis": null}, "x2": {"datum": 249}, "y": {"datum": 1.5867, "type": "quantitative"}, "y2": {"datum": 1.2888}}},
  {"data": {"name": "leg"}, "mark": {"type": "rect", "fill": "#00f000"}, "encoding": {"x": {"datum": 11.08, "type": "quantitative", "axis": null}, "x2": {"datum": 19.6}, "y": {"datum": 1.5707, "type": "quantitative"}, "y2": {"datum": 1.5043}}},
  {"data": {"name": "leg"}, "mark": {"type": "rect", "fill": "#ff1414", "fillOpacity": 0.14}, "encoding": {"x": {"datum": 11.08, "type": "quantitative", "axis": null}, "x2": {"datum": 19.6}, "y": {"datum": 1.4723, "type": "quantitative"}, "y2": {"datum": 1.4032}}},
  {"data": {"name": "leg"}, "mark": {"type": "rect", "fill": "#2828ff", "fillOpacity": 0.14}, "encoding": {"x": {"datum": 11.08, "type": "quantitative", "axis": null}, "x2": {"datum": 19.6}, "y": {"datum": 1.374, "type": "quantitative"}, "y2": {"datum": 1.3048}}},
  {"data": {"name": "leg"}, "mark": {"type": "rule", "stroke": "#333", "strokeWidth": 1, "strokeDash": [4, 3]}, "encoding": {"x": {"datum": 11.08, "type": "quantitative", "axis": null}, "x2": {"datum": 19.6}, "y": {"datum": 1.5375, "type": "quantitative"}}},
  {"data": {"name": "leg"}, "mark": {"type": "rule", "stroke": "#dd1111", "strokeWidth": 2, "strokeDash": [5, 3]}, "encoding": {"x": {"datum": 11.08, "type": "quantitative", "axis": null}, "x2": {"datum": 19.6}, "y": {"datum": 1.4378, "type": "quantitative"}}},
  {"data": {"name": "leg"}, "mark": {"type": "rule", "stroke": "#101098", "strokeWidth": 2, "strokeDash": [5, 3]}, "encoding": {"x": {"datum": 11.08, "type": "quantitative", "axis": null}, "x2": {"datum": 19.6}, "y": {"datum": 1.3394, "type": "quantitative"}}},
  {"data": {"name": "leg"}, "mark": {"type": "text", "align": "left", "baseline": "alphabetic", "fontSize": 21, "lineHeight": 36.2, "color": "#000"}, "encoding": {"x": {"datum": 23.5, "type": "quantitative", "axis": null}, "y": {"datum": 1.5114, "type": "quantitative"}, "text": {"value": ["m", "m", "m"]}}},
  {"data": {"name": "leg"}, "mark": {"type": "text", "align": "left", "baseline": "alphabetic", "fontSize": 14.5, "lineHeight": 36.2, "dx": 17.5, "dy": 5, "color": "#000"}, "encoding": {"x": {"datum": 23.5, "type": "quantitative", "axis": null}, "y": {"datum": 1.5114, "type": "quantitative"}, "text": {"value": ["c", "c", "c"]}}},
  {"data": {"name": "leg"}, "mark": {"type": "text", "align": "left", "baseline": "alphabetic", "fontSize": 21, "lineHeight": 36.2, "dx": 25, "color": "#000"}, "encoding": {"x": {"datum": 23.5, "type": "quantitative", "axis": null}, "y": {"datum": 1.5114, "type": "quantitative"}, "text": {"value": ["=1.47 GeV", "=1.33 GeV", "=1.61 GeV"]}}}
 ]
},
{
 "width": 555, "height": 376,
 "title": {"text": "NNPDF3 NLO, Fitted Charm, LHC 13 TeV"},
 "resolve": {"axis": {"x": "independent"}},
 "layer": [
  {"data": {"name": "d"}, "transform": [{"filter": "datum.p=='C' && datum.s=='g'"}], "mark": {"type": "area", "clip": true, "fill": "#00f000"},
   "encoding": {
    "x": {"field": "x", "type": "quantitative", "scale": {"type": "log", "domain": [9.1, 6800], "nice": false},
      "axis": {"orient": "bottom", "values": [10,20,30,40,50,60,70,80,90,100,200,300,400,500,600,700,800,900,1000,2000,3000,4000,5000,6000], "tickCount": 1000, "labelExpr": "datum.value==10?'10':datum.value==100?'10²':datum.value==1000?'10³':''", "labelOverlap": false, "labelPadding": 20, "tickSize": {"condition": {"test": "datum.value==10||datum.value==100||datum.value==1000", "value": -11}, "value": -5}, "title": "Mₓ ( GeV )", "titlePadding": 0}},
    "y": {"field": "lo", "type": "quantitative", "scale": {"domain": [0.6, 1.6], "nice": false, "zero": false},
      "axis": {"values": [0.6,0.61,0.62,0.63,0.64,0.65,0.66,0.67,0.68,0.69,0.7,0.71,0.72,0.73,0.74,0.75,0.76,0.77,0.78,0.79,0.8,0.81,0.82,0.83,0.84,0.85,0.86,0.87,0.88,0.89,0.9,0.91,0.92,0.93,0.94,0.95,0.96,0.97,0.98,0.99,1,1.01,1.02,1.03,1.04,1.05,1.06,1.07,1.08,1.09,1.1,1.11,1.12,1.13,1.14,1.15,1.16,1.17,1.18,1.19,1.2,1.21,1.22,1.23,1.24,1.25,1.26,1.27,1.28,1.29,1.3,1.31,1.32,1.33,1.34,1.35,1.36,1.37,1.38,1.39,1.4,1.41,1.42,1.43,1.44,1.45,1.46,1.47,1.48,1.49,1.5,1.51,1.52,1.53,1.54,1.55,1.56,1.57,1.58,1.59,1.6], "tickCount": 1000, "labelExpr": "abs(datum.value*10-round(datum.value*10))<0.001?format(datum.value,'~g'):''", "labelOverlap": false, "labelPadding": 26, "tickSize": {"condition": {"test": "abs(datum.value*10-round(datum.value*10))<0.001", "value": -16}, "value": -7}, "title": "Charm - Gluon Luminosity", "titlePadding": 14}},
    "y2": {"field": "hi"}}},
  {"data": {"name": "d"}, "transform": [{"filter": "datum.p=='C' && datum.s=='r'"}], "mark": {"type": "area", "clip": true, "fill": "#ff1414", "fillOpacity": 0.12},
   "encoding": {
    "x": {"field": "x", "type": "quantitative", "scale": {"type": "log", "domain": [9.1, 6800], "nice": false},
      "axis": {"orient": "top", "values": [10,20,30,40,50,60,70,80,90,100,200,300,400,500,600,700,800,900,1000,2000,3000,4000,5000,6000], "tickCount": 1000, "labels": false, "title": null, "tickSize": {"condition": {"test": "datum.value==10||datum.value==100||datum.value==1000", "value": -11}, "value": -5}}},
    "y": {"field": "lo", "type": "quantitative", "scale": {"domain": [0.6, 1.6], "nice": false, "zero": false}}, "y2": {"field": "hi"}}},
  {"data": {"name": "d"}, "transform": [{"filter": "datum.p=='C' && datum.s=='b'"}], "mark": {"type": "area", "clip": true, "fill": "#2828ff", "fillOpacity": 0.12},
   "encoding": {"x": {"field": "x", "type": "quantitative", "axis": null}, "y": {"field": "lo", "type": "quantitative"}, "y2": {"field": "hi"}}},
  {"data": {"name": "d"}, "transform": [{"filter": "datum.p=='C' && datum.s=='gc'"}], "mark": {"type": "line", "clip": true, "stroke": "#444", "strokeWidth": 1, "strokeDash": [4, 3]},
   "encoding": {"x": {"field": "x", "type": "quantitative", "axis": null}, "y": {"field": "c", "type": "quantitative"}}},
  {"data": {"name": "d"}, "transform": [{"filter": "datum.p=='C' && datum.s=='rc'"}], "mark": {"type": "line", "clip": true, "stroke": "#dd1111", "strokeWidth": 2, "strokeDash": [5, 3]},
   "encoding": {"x": {"field": "x", "type": "quantitative", "axis": null}, "y": {"field": "c", "type": "quantitative"}}},
  {"data": {"name": "d"}, "transform": [{"filter": "datum.p=='C' && datum.s=='bc'"}], "mark": {"type": "line", "clip": true, "stroke": "#101098", "strokeWidth": 2, "strokeDash": [5, 3]},
   "encoding": {"x": {"field": "x", "type": "quantitative", "axis": null}, "y": {"field": "c", "type": "quantitative"}}},
  {"data": {"name": "d"}, "transform": [{"filter": "datum.p=='C' && datum.s=='r'"}], "mark": {"type": "line", "clip": true, "stroke": "#dd1111", "strokeWidth": 2},
   "encoding": {"x": {"field": "x", "type": "quantitative", "axis": null}, "y": {"field": "lo", "type": "quantitative"}}},
  {"data": {"name": "d"}, "transform": [{"filter": "datum.p=='C' && datum.s=='r'"}], "mark": {"type": "line", "clip": true, "stroke": "#dd1111", "strokeWidth": 2},
   "encoding": {"x": {"field": "x", "type": "quantitative", "axis": null}, "y": {"field": "hi", "type": "quantitative"}}},
  {"data": {"name": "d"}, "transform": [{"filter": "datum.p=='C' && datum.s=='b'"}], "mark": {"type": "line", "clip": true, "stroke": "#101098", "strokeWidth": 2},
   "encoding": {"x": {"field": "x", "type": "quantitative", "axis": null}, "y": {"field": "lo", "type": "quantitative"}}},
  {"data": {"name": "d"}, "transform": [{"filter": "datum.p=='C' && datum.s=='b'"}], "mark": {"type": "line", "clip": true, "stroke": "#101098", "strokeWidth": 2},
   "encoding": {"x": {"field": "x", "type": "quantitative", "axis": null}, "y": {"field": "hi", "type": "quantitative"}}},
  {"data": {"name": "leg"}, "mark": {"type": "rect", "fill": "white", "stroke": "#333", "strokeWidth": 1.2}, "encoding": {"x": {"datum": 9.83, "type": "quantitative", "axis": null}, "x2": {"datum": 249}, "y": {"datum": 1.5867, "type": "quantitative"}, "y2": {"datum": 1.2888}}},
  {"data": {"name": "leg"}, "mark": {"type": "rect", "fill": "#00f000"}, "encoding": {"x": {"datum": 11.08, "type": "quantitative", "axis": null}, "x2": {"datum": 19.6}, "y": {"datum": 1.5707, "type": "quantitative"}, "y2": {"datum": 1.5043}}},
  {"data": {"name": "leg"}, "mark": {"type": "rect", "fill": "#ff1414", "fillOpacity": 0.14}, "encoding": {"x": {"datum": 11.08, "type": "quantitative", "axis": null}, "x2": {"datum": 19.6}, "y": {"datum": 1.4723, "type": "quantitative"}, "y2": {"datum": 1.4032}}},
  {"data": {"name": "leg"}, "mark": {"type": "rect", "fill": "#2828ff", "fillOpacity": 0.14}, "encoding": {"x": {"datum": 11.08, "type": "quantitative", "axis": null}, "x2": {"datum": 19.6}, "y": {"datum": 1.374, "type": "quantitative"}, "y2": {"datum": 1.3048}}},
  {"data": {"name": "leg"}, "mark": {"type": "rule", "stroke": "#333", "strokeWidth": 1, "strokeDash": [4, 3]}, "encoding": {"x": {"datum": 11.08, "type": "quantitative", "axis": null}, "x2": {"datum": 19.6}, "y": {"datum": 1.5375, "type": "quantitative"}}},
  {"data": {"name": "leg"}, "mark": {"type": "rule", "stroke": "#dd1111", "strokeWidth": 2, "strokeDash": [5, 3]}, "encoding": {"x": {"datum": 11.08, "type": "quantitative", "axis": null}, "x2": {"datum": 19.6}, "y": {"datum": 1.4378, "type": "quantitative"}}},
  {"data": {"name": "leg"}, "mark": {"type": "rule", "stroke": "#101098", "strokeWidth": 2, "strokeDash": [5, 3]}, "encoding": {"x": {"datum": 11.08, "type": "quantitative", "axis": null}, "x2": {"datum": 19.6}, "y": {"datum": 1.3394, "type": "quantitative"}}},
  {"data": {"name": "leg"}, "mark": {"type": "text", "align": "left", "baseline": "alphabetic", "fontSize": 21, "lineHeight": 36.2, "color": "#000"}, "encoding": {"x": {"datum": 23.5, "type": "quantitative", "axis": null}, "y": {"datum": 1.5114, "type": "quantitative"}, "text": {"value": ["m", "m", "m"]}}},
  {"data": {"name": "leg"}, "mark": {"type": "text", "align": "left", "baseline": "alphabetic", "fontSize": 14.5, "lineHeight": 36.2, "dx": 17.5, "dy": 5, "color": "#000"}, "encoding": {"x": {"datum": 23.5, "type": "quantitative", "axis": null}, "y": {"datum": 1.5114, "type": "quantitative"}, "text": {"value": ["c", "c", "c"]}}},
  {"data": {"name": "leg"}, "mark": {"type": "text", "align": "left", "baseline": "alphabetic", "fontSize": 21, "lineHeight": 36.2, "dx": 25, "color": "#000"}, "encoding": {"x": {"datum": 23.5, "type": "quantitative", "axis": null}, "y": {"datum": 1.5114, "type": "quantitative"}, "text": {"value": ["=1.47 GeV", "=1.33 GeV", "=1.61 GeV"]}}}
 ]
},
{
 "width": 555, "height": 376,
 "title": {"text": "NNPDF3 NLO, Perturbative Charm, LHC 13 TeV"},
 "resolve": {"axis": {"x": "independent"}},
 "layer": [
  {"data": {"name": "d"}, "transform": [{"filter": "datum.p=='D' && datum.s=='g'"}], "mark": {"type": "area", "clip": true, "fill": "#00f000"},
   "encoding": {
    "x": {"field": "x", "type": "quantitative", "scale": {"type": "log", "domain": [9.1, 6800], "nice": false},
      "axis": {"orient": "bottom", "values": [10,20,30,40,50,60,70,80,90,100,200,300,400,500,600,700,800,900,1000,2000,3000,4000,5000,6000], "tickCount": 1000, "labelExpr": "datum.value==10?'10':datum.value==100?'10²':datum.value==1000?'10³':''", "labelOverlap": false, "labelPadding": 20, "tickSize": {"condition": {"test": "datum.value==10||datum.value==100||datum.value==1000", "value": -11}, "value": -5}, "title": "Mₓ ( GeV )", "titlePadding": 0}},
    "y": {"field": "lo", "type": "quantitative", "scale": {"domain": [0.6, 1.6], "nice": false, "zero": false},
      "axis": {"values": [0.6,0.61,0.62,0.63,0.64,0.65,0.66,0.67,0.68,0.69,0.7,0.71,0.72,0.73,0.74,0.75,0.76,0.77,0.78,0.79,0.8,0.81,0.82,0.83,0.84,0.85,0.86,0.87,0.88,0.89,0.9,0.91,0.92,0.93,0.94,0.95,0.96,0.97,0.98,0.99,1,1.01,1.02,1.03,1.04,1.05,1.06,1.07,1.08,1.09,1.1,1.11,1.12,1.13,1.14,1.15,1.16,1.17,1.18,1.19,1.2,1.21,1.22,1.23,1.24,1.25,1.26,1.27,1.28,1.29,1.3,1.31,1.32,1.33,1.34,1.35,1.36,1.37,1.38,1.39,1.4,1.41,1.42,1.43,1.44,1.45,1.46,1.47,1.48,1.49,1.5,1.51,1.52,1.53,1.54,1.55,1.56,1.57,1.58,1.59,1.6], "tickCount": 1000, "labelExpr": "abs(datum.value*10-round(datum.value*10))<0.001?format(datum.value,'~g'):''", "labelOverlap": false, "labelPadding": 26, "tickSize": {"condition": {"test": "abs(datum.value*10-round(datum.value*10))<0.001", "value": -16}, "value": -7}, "title": "Charm - Gluon Luminosity", "titlePadding": 14}},
    "y2": {"field": "hi"}}},
  {"data": {"name": "d"}, "transform": [{"filter": "datum.p=='D' && datum.s=='r'"}], "mark": {"type": "area", "clip": true, "fill": "#ff1414", "fillOpacity": 0.12},
   "encoding": {
    "x": {"field": "x", "type": "quantitative", "scale": {"type": "log", "domain": [9.1, 6800], "nice": false},
      "axis": {"orient": "top", "values": [10,20,30,40,50,60,70,80,90,100,200,300,400,500,600,700,800,900,1000,2000,3000,4000,5000,6000], "tickCount": 1000, "labels": false, "title": null, "tickSize": {"condition": {"test": "datum.value==10||datum.value==100||datum.value==1000", "value": -11}, "value": -5}}},
    "y": {"field": "lo", "type": "quantitative", "scale": {"domain": [0.6, 1.6], "nice": false, "zero": false}}, "y2": {"field": "hi"}}},
  {"data": {"name": "d"}, "transform": [{"filter": "datum.p=='D' && datum.s=='b'"}], "mark": {"type": "area", "clip": true, "fill": "#2828ff", "fillOpacity": 0.12},
   "encoding": {"x": {"field": "x", "type": "quantitative", "axis": null}, "y": {"field": "lo", "type": "quantitative"}, "y2": {"field": "hi"}}},
  {"data": {"name": "d"}, "transform": [{"filter": "datum.p=='D' && datum.s=='gc'"}], "mark": {"type": "line", "clip": true, "stroke": "#444", "strokeWidth": 1, "strokeDash": [4, 3]},
   "encoding": {"x": {"field": "x", "type": "quantitative", "axis": null}, "y": {"field": "c", "type": "quantitative"}}},
  {"data": {"name": "d"}, "transform": [{"filter": "datum.p=='D' && datum.s=='rc'"}], "mark": {"type": "line", "clip": true, "stroke": "#dd1111", "strokeWidth": 2, "strokeDash": [5, 3]},
   "encoding": {"x": {"field": "x", "type": "quantitative", "axis": null}, "y": {"field": "c", "type": "quantitative"}}},
  {"data": {"name": "d"}, "transform": [{"filter": "datum.p=='D' && datum.s=='bc'"}], "mark": {"type": "line", "clip": true, "stroke": "#101098", "strokeWidth": 2, "strokeDash": [5, 3]},
   "encoding": {"x": {"field": "x", "type": "quantitative", "axis": null}, "y": {"field": "c", "type": "quantitative"}}},
  {"data": {"name": "d"}, "transform": [{"filter": "datum.p=='D' && datum.s=='r'"}], "mark": {"type": "line", "clip": true, "stroke": "#dd1111", "strokeWidth": 2},
   "encoding": {"x": {"field": "x", "type": "quantitative", "axis": null}, "y": {"field": "lo", "type": "quantitative"}}},
  {"data": {"name": "d"}, "transform": [{"filter": "datum.p=='D' && datum.s=='r'"}], "mark": {"type": "line", "clip": true, "stroke": "#dd1111", "strokeWidth": 2},
   "encoding": {"x": {"field": "x", "type": "quantitative", "axis": null}, "y": {"field": "hi", "type": "quantitative"}}},
  {"data": {"name": "d"}, "transform": [{"filter": "datum.p=='D' && datum.s=='b'"}], "mark": {"type": "line", "clip": true, "stroke": "#101098", "strokeWidth": 2},
   "encoding": {"x": {"field": "x", "type": "quantitative", "axis": null}, "y": {"field": "lo", "type": "quantitative"}}},
  {"data": {"name": "d"}, "transform": [{"filter": "datum.p=='D' && datum.s=='b'"}], "mark": {"type": "line", "clip": true, "stroke": "#101098", "strokeWidth": 2},
   "encoding": {"x": {"field": "x", "type": "quantitative", "axis": null}, "y": {"field": "hi", "type": "quantitative"}}},
  {"data": {"name": "leg"}, "mark": {"type": "rect", "fill": "white", "stroke": "#333", "strokeWidth": 1.2}, "encoding": {"x": {"datum": 9.83, "type": "quantitative", "axis": null}, "x2": {"datum": 249}, "y": {"datum": 1.5867, "type": "quantitative"}, "y2": {"datum": 1.2888}}},
  {"data": {"name": "leg"}, "mark": {"type": "rect", "fill": "#00f000"}, "encoding": {"x": {"datum": 11.08, "type": "quantitative", "axis": null}, "x2": {"datum": 19.6}, "y": {"datum": 1.5707, "type": "quantitative"}, "y2": {"datum": 1.5043}}},
  {"data": {"name": "leg"}, "mark": {"type": "rect", "fill": "#ff1414", "fillOpacity": 0.14}, "encoding": {"x": {"datum": 11.08, "type": "quantitative", "axis": null}, "x2": {"datum": 19.6}, "y": {"datum": 1.4723, "type": "quantitative"}, "y2": {"datum": 1.4032}}},
  {"data": {"name": "leg"}, "mark": {"type": "rect", "fill": "#2828ff", "fillOpacity": 0.14}, "encoding": {"x": {"datum": 11.08, "type": "quantitative", "axis": null}, "x2": {"datum": 19.6}, "y": {"datum": 1.374, "type": "quantitative"}, "y2": {"datum": 1.3048}}},
  {"data": {"name": "leg"}, "mark": {"type": "rule", "stroke": "#333", "strokeWidth": 1, "strokeDash": [4, 3]}, "encoding": {"x": {"datum": 11.08, "type": "quantitative", "axis": null}, "x2": {"datum": 19.6}, "y": {"datum": 1.5375, "type": "quantitative"}}},
  {"data": {"name": "leg"}, "mark": {"type": "rule", "stroke": "#dd1111", "strokeWidth": 2, "strokeDash": [5, 3]}, "encoding": {"x": {"datum": 11.08, "type": "quantitative", "axis": null}, "x2": {"datum": 19.6}, "y": {"datum": 1.4378, "type": "quantitative"}}},
  {"data": {"name": "leg"}, "mark": {"type": "rule", "stroke": "#101098", "strokeWidth": 2, "strokeDash": [5, 3]}, "encoding": {"x": {"datum": 11.08, "type": "quantitative", "axis": null}, "x2": {"datum": 19.6}, "y": {"datum": 1.3394, "type": "quantitative"}}},
  {"data": {"name": "leg"}, "mark": {"type": "text", "align": "left", "baseline": "alphabetic", "fontSize": 21, "lineHeight": 36.2, "color": "#000"}, "encoding": {"x": {"datum": 23.5, "type": "quantitative", "axis": null}, "y": {"datum": 1.5114, "type": "quantitative"}, "text": {"value": ["m", "m", "m"]}}},
  {"data": {"name": "leg"}, "mark": {"type": "text", "align": "left", "baseline": "alphabetic", "fontSize": 14.5, "lineHeight": 36.2, "dx": 17.5, "dy": 5, "color": "#000"}, "encoding": {"x": {"datum": 23.5, "type": "quantitative", "axis": null}, "y": {"datum": 1.5114, "type": "quantitative"}, "text": {"value": ["c", "c", "c"]}}},
  {"data": {"name": "leg"}, "mark": {"type": "text", "align": "left", "baseline": "alphabetic", "fontSize": 21, "lineHeight": 36.2, "dx": 25, "color": "#000"}, "encoding": {"x": {"datum": 23.5, "type": "quantitative", "axis": null}, "y": {"datum": 1.5114, "type": "quantitative"}, "text": {"value": ["=1.47 GeV", "=1.33 GeV", "=1.61 GeV"]}}}
 ]
}
]
}
